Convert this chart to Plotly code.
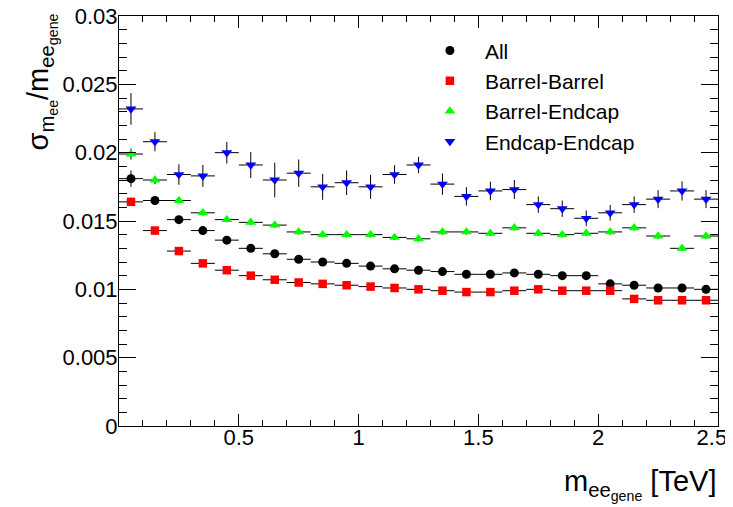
import plotly.graph_objects as go

# Bin centres (TeV) and half-widths
mass = [0.05, 0.15, 0.25, 0.35, 0.45, 0.55, 0.65, 0.75, 0.85, 0.95,
        1.05, 1.15, 1.25, 1.35, 1.45, 1.55, 1.65, 1.75, 1.85, 1.95,
        2.05, 2.15, 2.25, 2.35, 2.45]
half_width = [0.05] * 25

res_all = [0.0181, 0.0165, 0.0151, 0.0143, 0.0136, 0.0130, 0.0126, 0.0122, 0.0120, 0.0119,
           0.0117, 0.0115, 0.0114, 0.0113, 0.0111, 0.0111, 0.0112, 0.0111, 0.0110, 0.0110,
           0.0104, 0.0103, 0.0101, 0.0101, 0.0100]
err_all = [0.0006, 0.0003, 0.0002, 0.0002, 0.0002, 0.0002, 0.0002, 0.0002, 0.0002, 0.0002,
           0.0002, 0.0002, 0.0002, 0.0002, 0.0002, 0.0002, 0.0002, 0.0002, 0.0002, 0.0002,
           0.0002, 0.0002, 0.0002, 0.0002, 0.0002]

res_bb = [0.0164, 0.0143, 0.0128, 0.0119, 0.0114, 0.0110, 0.0107, 0.0105, 0.0104, 0.0103,
          0.0102, 0.0101, 0.0100, 0.0099, 0.0098, 0.0098, 0.0099, 0.0100, 0.0099, 0.0099,
          0.0099, 0.0093, 0.0092, 0.0092, 0.0092]
err_bb = [0.0003, 0.0002, 0.0002, 0.0002, 0.0002, 0.0002, 0.0002, 0.0002, 0.0002, 0.0002,
          0.0002, 0.0002, 0.0002, 0.0002, 0.0002, 0.0002, 0.0002, 0.0002, 0.0002, 0.0002,
          0.0002, 0.0002, 0.0002, 0.0002, 0.0002]

res_be = [0.0199, 0.0180, 0.0165, 0.0156, 0.0151, 0.0149, 0.0147, 0.0142, 0.0140, 0.0140,
          0.0140, 0.0138, 0.0137, 0.0142, 0.0142, 0.0141, 0.0145, 0.0141, 0.0140, 0.0141,
          0.0142, 0.0145, 0.0139, 0.0130, 0.0139]
err_be = [0.0004, 0.0003, 0.0002, 0.0002, 0.0002, 0.0002, 0.0002, 0.0002, 0.0002, 0.0002,
          0.0002, 0.0002, 0.0002, 0.0002, 0.0002, 0.0002, 0.0002, 0.0002, 0.0002, 0.0002,
          0.0002, 0.0002, 0.0002, 0.0002, 0.0002]

res_ee = [0.0232, 0.0208, 0.0184, 0.0183, 0.0200, 0.0191, 0.0180, 0.0185, 0.0175, 0.0178,
          0.0175, 0.0184, 0.0191, 0.0177, 0.0168, 0.0172, 0.0173, 0.0162, 0.0159, 0.0152,
          0.0156, 0.0162, 0.0166, 0.0172, 0.0166]
err_ee = [0.00116, 0.0007, 0.00075, 0.0008, 0.0008, 0.00095, 0.00127, 0.0010, 0.00095, 0.0009,
          0.00088, 0.00068, 0.0006, 0.00078, 0.00067, 0.00068, 0.0007, 0.0006, 0.0006, 0.00057,
          0.00057, 0.0006, 0.00066, 0.0007, 0.00066]

series = [
    ("All", res_all, err_all, "black", "circle", 9),
    ("Barrel-Barrel", res_bb, err_bb, "#ff0000", "square", 8.5),
    ("Barrel-Endcap", res_be, err_be, "#00ff00", "triangle-up", 9.5),
    ("Endcap-Endcap", res_ee, err_ee, "#0000ff", "triangle-down", 9.5),
]

y_ticks = [0, 0.005, 0.01, 0.015, 0.02, 0.025, 0.03]
y_tick_text = ["0", "0.005", "0.01", "0.015", "0.02", "0.025", "0.03"]
x_ticks = [0.5, 1.0, 1.5, 2.0, 2.5]
x_tick_text = ["0.5", "1", "1.5", "2", "2.5\u00a0\u00a0"]

fig = go.Figure()
for i, (name, vals, errs, col, sym, sz) in enumerate(series):
    fig.add_trace(go.Scatter(
        x=mass, y=vals, mode="markers", name=name, legendgroup=f"g{i}",
        marker=dict(color=col, symbol=sym, size=sz, line=dict(width=0)),
        error_x=dict(type="data", array=half_width, color="black", thickness=1, width=0),
        error_y=dict(type="data", array=errs, color="black", thickness=1, width=0),
    ))

FONT = "Liberation Sans, Arial, Helvetica, sans-serif"

# page body has an 8px default margin, so the figure is drawn 8px smaller
fig.update_layout(
    width=725, height=499,
    margin=dict(l=111, r=15, t=8, b=81, autoexpand=False),
    paper_bgcolor="white", plot_bgcolor="white",
    font=dict(family=FONT, color="black", size=22),
    showlegend=True,
    legend=dict(x=0.494, y=0.965, xanchor="left", yanchor="top",
                bgcolor="rgba(0,0,0,0)", font=dict(size=21),
                tracegroupgap=0, itemwidth=60),
    xaxis=dict(range=[0, 2.50001], showgrid=False, zeroline=False, automargin=False,
               showline=True, linecolor="black", linewidth=1, mirror="allticks",
               ticks="inside", ticklen=12, tickcolor="black",
               tickvals=x_ticks, ticktext=x_tick_text, ticklabeloverflow="allow",
               ticklabelstandoff=-8,
               minor=dict(ticks="inside", ticklen=6, dtick=0.1, tick0=0, tickcolor="black", showgrid=False),
               tickfont=dict(size=22)),
    yaxis=dict(range=[0, 0.03], showgrid=False, zeroline=False, automargin=False,
               showline=True, linecolor="black", linewidth=1, mirror="allticks",
               ticks="inside", ticklen=17, tickcolor="black",
               tickvals=y_ticks, ticktext=y_tick_text, ticklabeloverflow="allow",
               ticklabelstandoff=-4,
               minor=dict(ticks="inside", ticklen=8, dtick=0.001, tick0=0, tickcolor="black", showgrid=False),
               tickfont=dict(size=22)),
)

fig.add_annotation(
    text="m<sub>ee<sub>gene</sub></sub> [TeV]",
    xref="paper", yref="paper", x=1.0, y=-0.09, xanchor="right", yanchor="top",
    showarrow=False, font=dict(size=29, family=FONT),
)
fig.add_annotation(
    text="σ<sub>m<sub>ee</sub></sub>/m<sub>ee<sub>gene</sub></sub>",
    xref="paper", yref="paper", x=-0.13, y=1.01, xanchor="center", yanchor="top",
    textangle=-90, showarrow=False, font=dict(size=29, family=FONT),
)

fig.write_html("out.html")
